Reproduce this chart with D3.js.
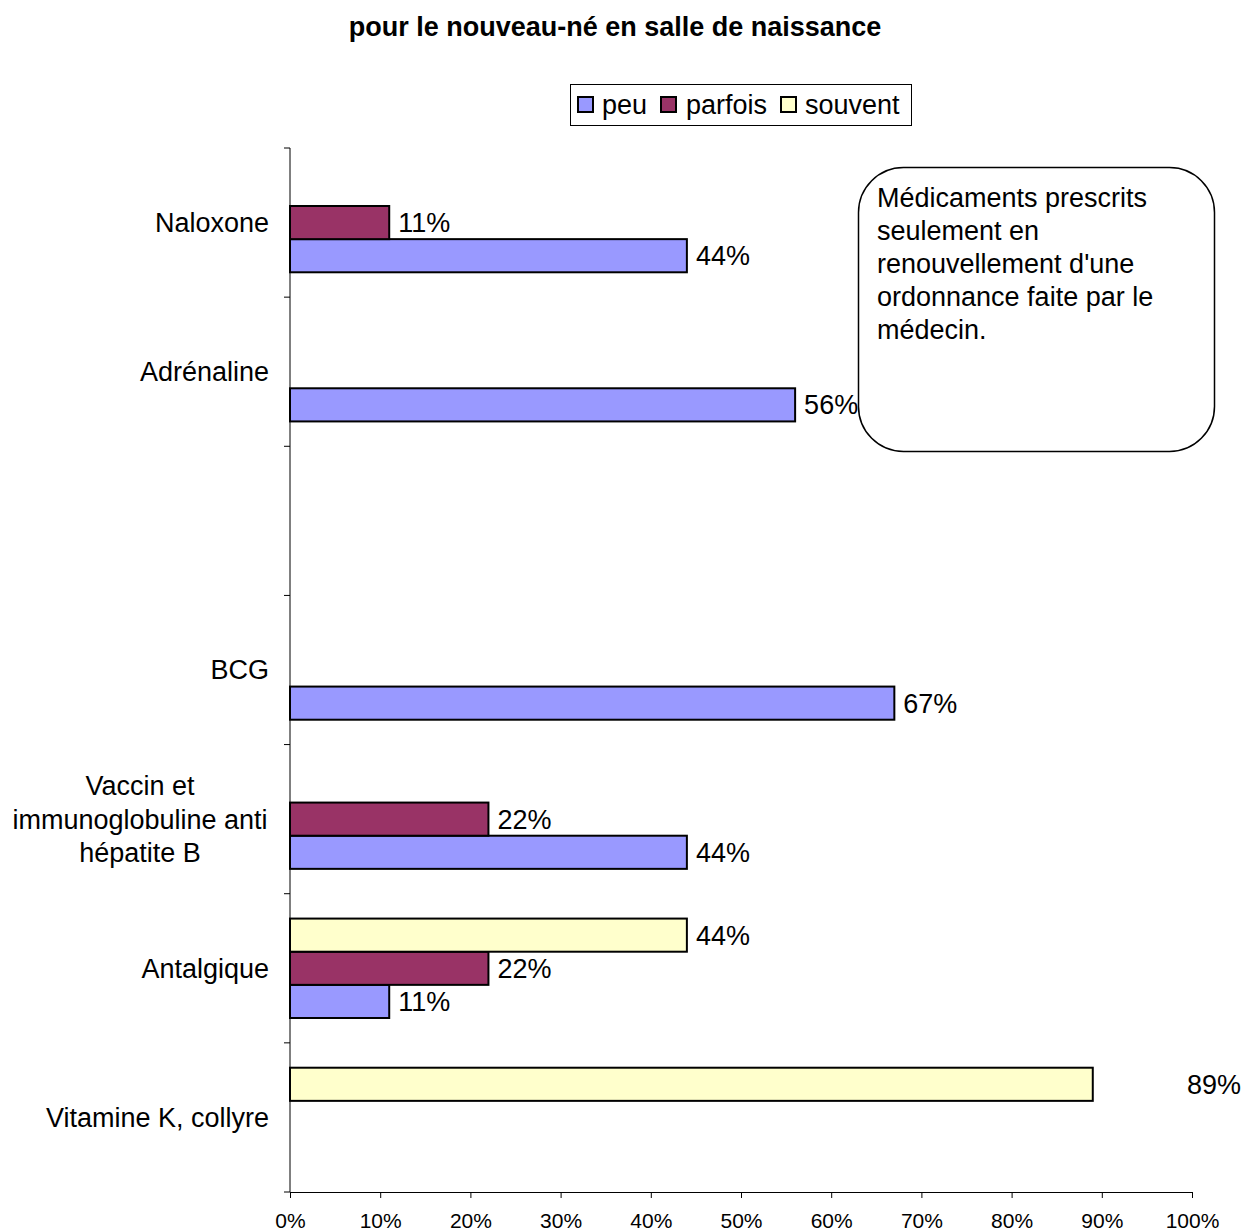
<!DOCTYPE html>
<html>
<head>
<meta charset="utf-8">
<script src="https://cdn.jsdelivr.net/npm/d3@7"></script>
<style>
  body { margin: 0; background: #fff; }
  svg { display: block; font-family: "Liberation Sans", Arial, sans-serif; }
</style>
</head>
<body>
<svg id="chart"></svg>
<script>
"use strict"

const WIDTH = 1244;
const HEIGHT = 1231;
const MARGIN = { left: 290, top: 148, right: 52, bottom: 39 };
const FONT_SIZE = 27;
const TICK_FONT_SIZE = 21;

// Data (top to bottom)
const CATEGORIES = ["Naloxone", "Adrénaline", "", "BCG", "Vaccin et|immunoglobuline anti|hépatite B", "Antalgique", "Vitamine K, collyre"];
const SERIES = ["peu", "parfois", "souvent"];
const PEU = [44, 56, 0, 67, 44, 11, 0];
const PARFOIS = [11, 0, 0, 0, 22, 22, 0];
const SOUVENT = [0, 0, 0, 0, 0, 44, 89];
const X_TICKS = [0, 10, 20, 30, 40, 50, 60, 70, 80, 90, 100];
const TITLE = "pour le nouveau-né en salle de naissance";
const NOTE = ["Médicaments prescrits", "seulement en", "renouvellement d'une", "ordonnance faite par le", "médecin."];

const COLORS = { peu: "#9999FF", parfois: "#993366", souvent: "#FFFFCC" };
const VALUES = { peu: PEU, parfois: PARFOIS, souvent: SOUVENT };

const svg = d3.select("#chart").attr("width", WIDTH).attr("height", HEIGHT);

const xScale = d3.scaleLinear([0, 100], [MARGIN.left, WIDTH - MARGIN.right]);
const yScale = d3.scaleBand(d3.range(CATEGORIES.length), [MARGIN.top, HEIGHT - MARGIN.bottom]).padding(0);
// souvent on top, peu at bottom inside each group
const subScale = d3.scaleBand(["souvent", "parfois", "peu"], [0, yScale.bandwidth()])
    .paddingInner(0).paddingOuter(0.75);

// Title
svg.append("text")
    .attr("x", 615).attr("y", 27).attr("dy", "0.35em")
    .attr("text-anchor", "middle")
    .attr("font-size", FONT_SIZE).attr("font-weight", "bold")
    .text(TITLE);

// Bars
const bars = svg.append("g");
CATEGORIES.forEach((cat, i) => {
    SERIES.forEach(s => {
        const v = VALUES[s][i];
        if (!v) return;
        const y = yScale(i) + subScale(s);
        bars.append("rect")
            .attr("x", xScale(0))
            .attr("y", y)
            .attr("width", xScale(v) - xScale(0))
            .attr("height", subScale.bandwidth())
            .attr("fill", COLORS[s])
            .attr("stroke", "#000")
            .attr("stroke-width", 2);
        // the 89% label was dragged off to the right in the original
        const lx = (i === CATEGORIES.length - 1) ? xScale(100) - 5 : xScale(v) + 9;
        bars.append("text")
            .attr("x", lx)
            .attr("y", y + subScale.bandwidth() / 2)
            .attr("dy", "0.35em")
            .attr("font-size", FONT_SIZE)
            .text(v + "%");
    });
});

// Axes
const xAxis = svg.append("g")
    .attr("transform", `translate(0,${HEIGHT - MARGIN.bottom})`)
    .call(d3.axisBottom(xScale).tickValues(X_TICKS).tickFormat(d => d + "%").tickSize(6).tickSizeOuter(6));
xAxis.selectAll("text").attr("font-size", TICK_FONT_SIZE).attr("fill", "#000").attr("dy", "0").attr("y", 36);
xAxis.select(".domain").attr("stroke", "#000");
xAxis.selectAll(".tick line").attr("stroke", "#000");

const yAxis = svg.append("g").attr("transform", `translate(${MARGIN.left},0)`);
yAxis.append("line")
    .attr("y1", MARGIN.top).attr("y2", HEIGHT - MARGIN.bottom)
    .attr("stroke", "#000");
d3.range(CATEGORIES.length + 1).forEach(i => {
    const y = MARGIN.top + i * yScale.step();
    yAxis.append("line").attr("x1", -6).attr("x2", 0).attr("y1", y).attr("y2", y).attr("stroke", "#000");
});

// Category labels
CATEGORIES.forEach((cat, i) => {
    const lines = cat.split("|");
    const cy = yScale(i) + yScale.bandwidth() / 2;
    const lh = 33.5;
    if (lines.length === 1) {
        svg.append("text")
            .attr("x", MARGIN.left - 21).attr("y", cy).attr("dy", "0.35em")
            .attr("text-anchor", "end").attr("font-size", FONT_SIZE)
            .text(cat);
    } else {
        const t = svg.append("text").attr("font-size", FONT_SIZE).attr("text-anchor", "middle");
        lines.forEach((l, j) => {
            t.append("tspan")
                .attr("x", 140)
                .attr("y", cy + (j - (lines.length - 1) / 2) * lh)
                .attr("dy", "0.35em")
                .text(l);
        });
    }
});

// Legend
const legend = svg.append("g");
legend.append("rect")
    .attr("x", 570.5).attr("y", 84.5).attr("width", 341).attr("height", 41)
    .attr("fill", "#fff").attr("stroke", "#000");
const legendX = [578, 661, 781];
const legendTextX = [602, 686, 805];
SERIES.forEach((s, i) => {
    legend.append("rect")
        .attr("x", legendX[i]).attr("y", 97).attr("width", 15).attr("height", 15)
        .attr("fill", COLORS[s]).attr("stroke", "#000").attr("stroke-width", 2);
    legend.append("text")
        .attr("x", legendTextX[i]).attr("y", 105).attr("dy", "0.35em")
        .attr("font-size", FONT_SIZE).text(s);
});

// Note box
svg.append("rect")
    .attr("x", 858.5).attr("y", 167.5).attr("width", 356).attr("height", 284)
    .attr("rx", 45).attr("ry", 45)
    .attr("fill", "#fff").attr("stroke", "#000").attr("stroke-width", 1.5);
const note = svg.append("text").attr("font-size", FONT_SIZE);
NOTE.forEach((l, j) => {
    note.append("tspan").attr("x", 877).attr("y", 198 + j * 33).attr("dy", "0.35em").text(l);
});
</script>
</body>
</html>
